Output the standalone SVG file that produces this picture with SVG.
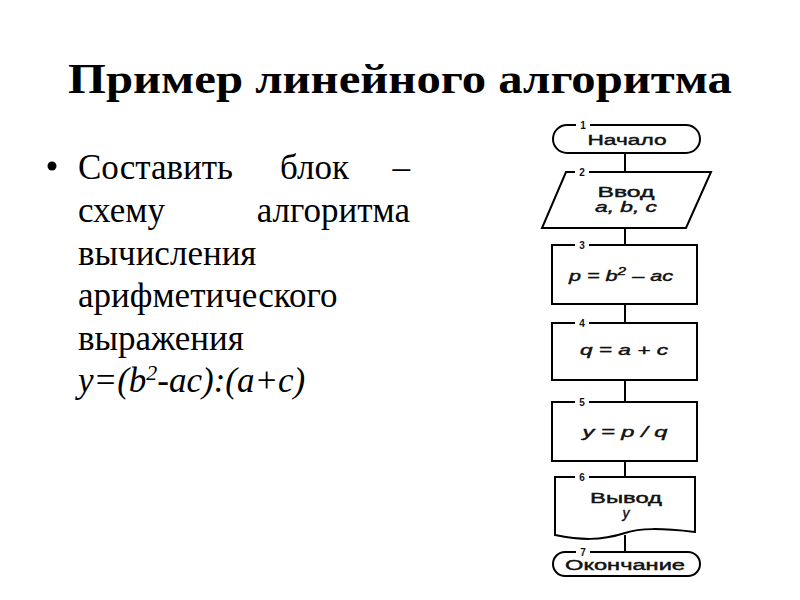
<svg xmlns="http://www.w3.org/2000/svg" width="800" height="600" viewBox="0 0 800 600">
<defs>
<style>
.title{font-family:"Liberation Serif","Times New Roman",serif;font-weight:bold;font-size:42px;fill:#000}
.body{font-family:"Liberation Serif","Times New Roman",serif;font-size:35px;fill:#000}
.shape{fill:#fff;stroke:#000;stroke-width:2}
.conn{stroke:#000;stroke-width:2;fill:none}
.lbl{font-family:"Liberation Sans",Arial,sans-serif;font-size:14px;fill:#111;stroke:#111;stroke-width:0.4;text-anchor:middle}
.it{font-style:italic}
.num{font-family:"Liberation Sans",Arial,sans-serif;font-size:10px;font-weight:bold;fill:#111;text-anchor:middle}
.gap{fill:#fff}
</style>
</defs>
<rect width="800" height="600" fill="#fff"/>
<text class="title" x="400" y="93" text-anchor="middle" textLength="664" lengthAdjust="spacingAndGlyphs">Пример линейного алгоритма</text>
<g id="bullet-text">
<circle cx="52" cy="166" r="4.5" fill="#000"/>
<text class="body" x="78" y="179">Составить</text>
<text class="body" x="280" y="179">блок</text>
<text class="body" x="410" y="179" text-anchor="end">–</text>
<text class="body" x="78" y="222">схему</text>
<text class="body" x="410" y="222" text-anchor="end">алгоритма</text>
<text class="body" x="78" y="265">вычисления</text>
<text class="body" x="78" y="307">арифметического</text>
<text class="body" x="78" y="350">выражения</text>
<text class="body it" x="78" y="392">y=(b<tspan font-size="22" dy="-12">2</tspan><tspan dy="12">-ac):(a+c)</tspan></text>
</g>
<g id="connectors">
<line class="conn" x1="625" y1="153" x2="625" y2="172"/>
<line class="conn" x1="625" y1="228" x2="625" y2="245"/>
<line class="conn" x1="625" y1="304" x2="625" y2="323"/>
<line class="conn" x1="625" y1="380" x2="625" y2="402"/>
<line class="conn" x1="625" y1="461" x2="625" y2="477"/>
<line class="conn" x1="625" y1="535" x2="625" y2="552"/>
</g>
<g id="n1">
<rect class="shape" x="553" y="125" width="147" height="28" rx="14"/>
<rect class="gap" x="576" y="121" width="14" height="8"/>
<text class="num" x="583" y="129">1</text>
<text class="lbl" x="627" y="145" textLength="79" lengthAdjust="spacingAndGlyphs">Начало</text>
</g>
<g id="n2">
<polygon class="shape" points="566,172 711,172 686,228 542,228"/>
<rect class="gap" x="575" y="168" width="14" height="8"/>
<text class="num" x="582" y="176">2</text>
<text class="lbl" x="626" y="197" textLength="57" lengthAdjust="spacingAndGlyphs">Ввод</text>
<text class="lbl it" x="626" y="212" textLength="62" lengthAdjust="spacingAndGlyphs">a, b, c</text>
</g>
<g id="n3">
<rect class="shape" x="552" y="245" width="145" height="59"/>
<rect class="gap" x="575" y="241" width="14" height="8"/>
<text class="num" x="582" y="249">3</text>
<text class="lbl it" x="621" y="281" textLength="104" lengthAdjust="spacingAndGlyphs">p = b<tspan font-size="10" dy="-6">2</tspan><tspan dy="6"> – ac</tspan></text>
</g>
<g id="n4">
<rect class="shape" x="552" y="323" width="145" height="57"/>
<rect class="gap" x="575" y="319" width="14" height="8"/>
<text class="num" x="582" y="327">4</text>
<text class="lbl it" x="624" y="355" textLength="88" lengthAdjust="spacingAndGlyphs">q = a + c</text>
</g>
<g id="n5">
<rect class="shape" x="552" y="402" width="145" height="59"/>
<rect class="gap" x="575" y="398" width="14" height="8"/>
<text class="num" x="582" y="406">5</text>
<text class="lbl it" x="625" y="437" textLength="85" lengthAdjust="spacingAndGlyphs">y = p / q</text>
</g>
<g id="n6">
<path class="shape" d="M555,477 H695 V532 C660,528 640,528 625,533 C600,541 580,540 555,535 Z"/>
<rect class="gap" x="575" y="473" width="14" height="8"/>
<text class="num" x="582" y="481">6</text>
<text class="lbl" x="626" y="503" textLength="72" lengthAdjust="spacingAndGlyphs">Вывод</text>
<text class="lbl it" x="626" y="518">y</text>
</g>
<g id="n7">
<rect class="shape" x="553" y="552" width="147" height="24" rx="12"/>
<rect class="gap" x="576" y="548" width="14" height="8"/>
<text class="num" x="583" y="556">7</text>
<text class="lbl" x="625" y="570" textLength="120" lengthAdjust="spacingAndGlyphs">Окончание</text>
</g>
</svg>
